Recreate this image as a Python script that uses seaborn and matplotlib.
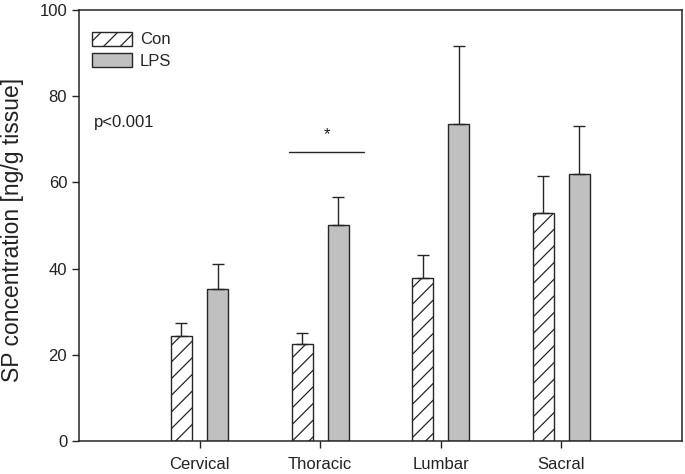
import numpy as np
import pandas as pd
import seaborn as sns
import matplotlib.pyplot as plt
from matplotlib.patches import Patch

regions = ['Cervical', 'Thoracic', 'Lumbar', 'Sacral']
con_mean = [24.4, 22.5, 37.8, 52.9]
con_err = [3.0, 2.5, 5.4, 8.6]
lps_mean = [35.3, 50.1, 73.5, 62.0]
lps_err = [5.8, 6.5, 18.1, 11.1]

data = pd.DataFrame({
    'region': regions * 2,
    'group': ['Con'] * 4 + ['LPS'] * 4,
    'value': con_mean + lps_mean,
    'err': con_err + lps_err,
})

sns.set_style('ticks')
plt.rcParams['font.family'] = ['Liberation Sans', 'DejaVu Sans']
plt.rcParams['hatch.linewidth'] = 0.9

edge = '#262626'
fig = plt.figure(figsize=(6.85, 4.74), dpi=100)
ax = fig.add_axes([0.1153, 0.0696, 0.8803, 0.9094])

sns.barplot(data=data, x='region', y='value', hue='group', order=regions,
            hue_order=['Con', 'LPS'], palette={'Con': 'white', 'LPS': '#c0c0c0'},
            width=0.6, gap=0.42, edgecolor=edge, linewidth=1.0, errorbar=None,
            legend=False, ax=ax)

# hatch the control bars, add upper-only error bars
for cont, grp in zip(ax.containers, ['Con', 'LPS']):
    sub = data[data['group'] == grp]
    xs = [b.get_x() + b.get_width() / 2 for b in cont]
    if grp == 'Con':
        for b in cont:
            b.set_hatch('//')
    ax.errorbar(xs, sub['value'], yerr=[np.zeros(len(sub)), sub['err']],
                fmt='none', ecolor=edge, elinewidth=1.0, capsize=4.5, capthick=1.0, zorder=1)

ax.set_xlim(-1, 4)
ax.set_ylim(0, 100)
ax.set_yticks([0, 20, 40, 60, 80, 100])
ax.set_xlabel('')
ax.set_ylabel('SP concentration [ng/g tissue]', fontsize=16.5, color='#222222')
ax.yaxis.set_label_coords(-0.092, 0.49)
ax.tick_params(axis='both', labelsize=12, colors='#222222', length=5, width=1.0, direction='out')
ax.tick_params(axis='x', pad=6.5)
for s in ax.spines.values():
    s.set_color(edge)
    s.set_linewidth(1.1)

# significance marks
ax.plot([0.74, 1.36], [67, 67], color=edge, lw=1.0)
ax.text(1.06, 71, '*', ha='center', va='center', fontsize=12, color='#222222')
ax.text(-0.875, 74, 'p<0.001', ha='left', va='center', fontsize=12, color='#222222')

handles = [Patch(facecolor='white', edgecolor=edge, hatch='//', label='Con'),
           Patch(facecolor='#c0c0c0', edgecolor=edge, label='LPS')]
ax.legend(handles=handles, loc='upper left', bbox_to_anchor=(0.01, 0.965), frameon=False,
          fontsize=12, handlelength=2.4, handleheight=0.9, handletextpad=0.5,
          labelspacing=0.35, borderaxespad=0)

fig.savefig('out.png', dpi=100)
